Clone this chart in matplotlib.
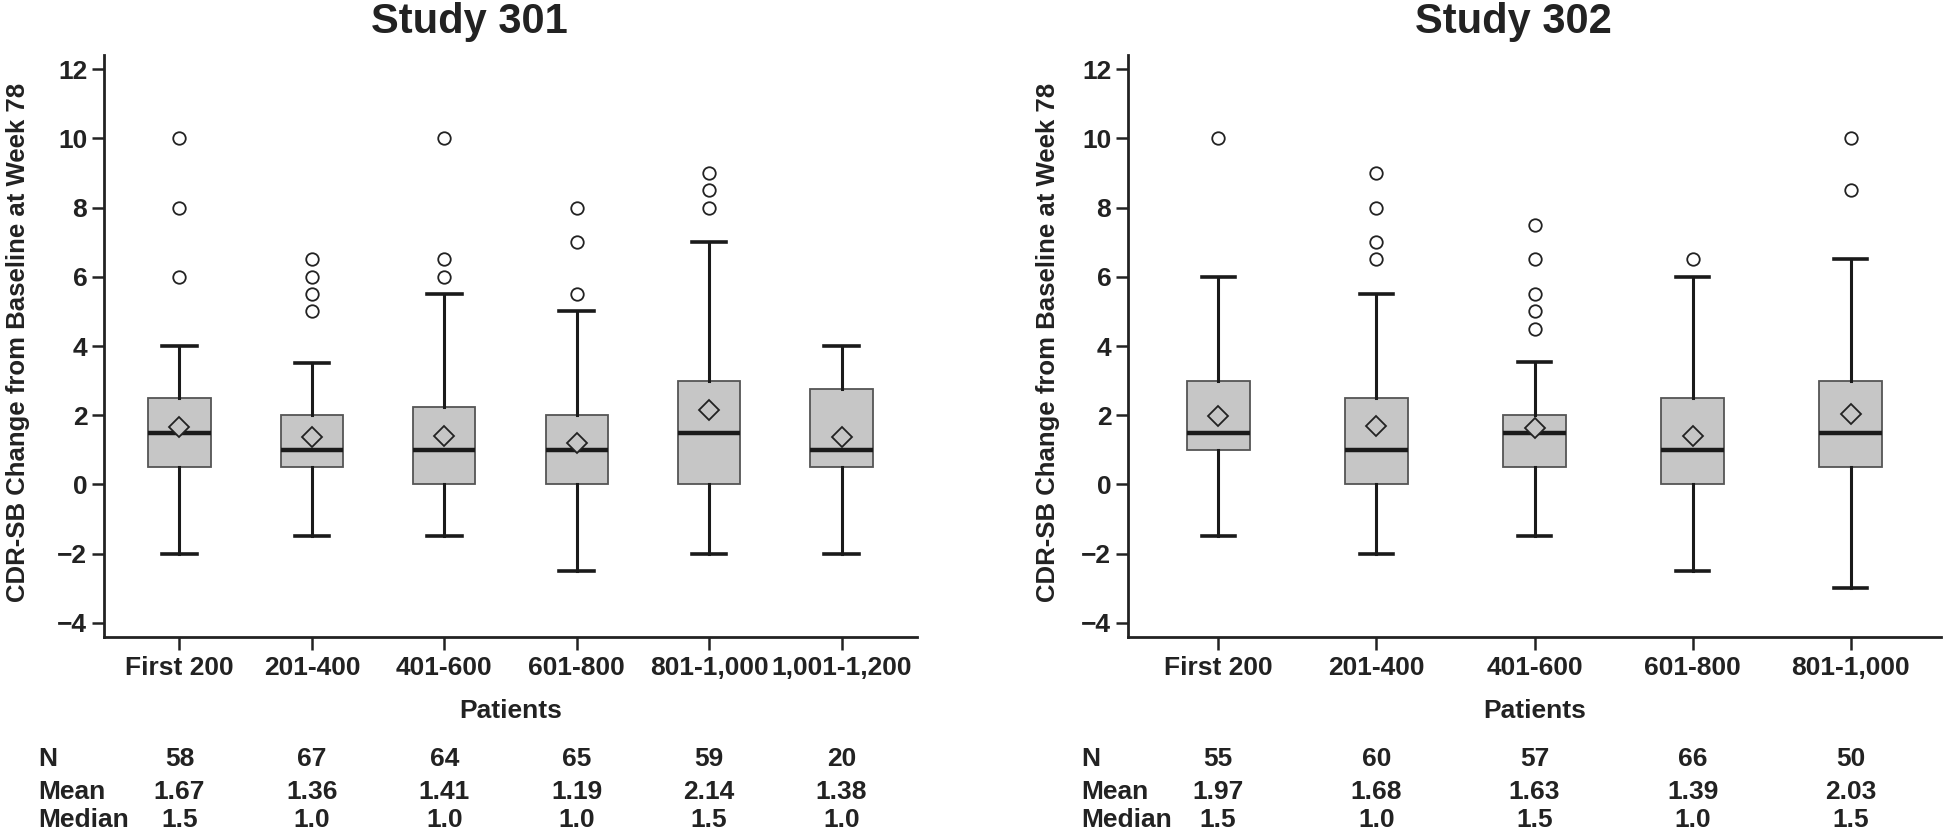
import matplotlib
matplotlib.use("Agg")
import matplotlib.pyplot as plt
from matplotlib.transforms import blended_transform_factory

plt.rcParams["font.family"] = ["Liberation Sans Narrow", "Liberation Sans", "DejaVu Sans"]
plt.rcParams["font.weight"] = "bold"

# Study 301
groups_301 = ["First 200", "201-400", "401-600", "601-800", "801-1,000", "1,001-1,200"]
n_301 = [58, 67, 64, 65, 59, 20]
mean_301 = [1.67, 1.36, 1.41, 1.19, 2.14, 1.38]
median_301 = [1.5, 1.0, 1.0, 1.0, 1.5, 1.0]
q1_301 = [0.5, 0.5, 0.0, 0.0, 0.0, 0.5]
q3_301 = [2.5, 2.0, 2.25, 2.0, 3.0, 2.75]
whislo_301 = [-2.0, -1.5, -1.5, -2.5, -2.0, -2.0]
whishi_301 = [4.0, 3.5, 5.5, 5.0, 7.0, 4.0]
fliers_301 = [[10, 8, 6], [6.5, 6, 5.5, 5], [10, 6.5, 6], [8, 7, 5.5], [9, 8.5, 8], []]

# Study 302
groups_302 = ["First 200", "201-400", "401-600", "601-800", "801-1,000"]
n_302 = [55, 60, 57, 66, 50]
mean_302 = [1.97, 1.68, 1.63, 1.39, 2.03]
median_302 = [1.5, 1.0, 1.5, 1.0, 1.5]
q1_302 = [1.0, 0.0, 0.5, 0.0, 0.5]
q3_302 = [3.0, 2.5, 2.0, 2.5, 3.0]
whislo_302 = [-1.5, -2.0, -1.5, -2.5, -3.0]
whishi_302 = [6.0, 5.5, 3.55, 6.0, 6.5]
fliers_302 = [[10], [9, 8, 7, 6.5], [7.5, 6.5, 5.5, 5, 4.5], [6.5], [10, 8.5]]

W, H = 1944, 836
DARK = "#222222"
BOX = "#c6c6c6"

fig = plt.figure(figsize=(W / 100, H / 100), dpi=100)


def px(x, y):
    return x / W, 1 - y / H


def draw_study(rect, title, title_x, ylab_x, label_x, groups, n, mean, median,
               q1, q3, lo, hi, fliers, box_w, cap_w):
    ax = fig.add_axes(rect)
    stats = [dict(med=median[i], q1=q1[i], q3=q3[i], whislo=lo[i], whishi=hi[i],
                  mean=mean[i], fliers=fliers[i]) for i in range(len(groups))]
    pos = list(range(1, len(groups) + 1))
    ax.bxp(stats, positions=pos, widths=box_w, capwidths=cap_w, showmeans=True,
           patch_artist=True,
           boxprops=dict(facecolor=BOX, edgecolor="#555555", linewidth=1.3),
           medianprops=dict(color="#1a1a1a", linewidth=3.2),
           whiskerprops=dict(color="#1a1a1a", linewidth=2.2),
           capprops=dict(color="#1a1a1a", linewidth=2.6),
           meanprops=dict(marker="D", markerfacecolor=BOX, markeredgecolor=DARK,
                          markersize=10, markeredgewidth=1.3),
           flierprops=dict(marker="o", markerfacecolor="white", markeredgecolor=DARK,
                           markersize=9, markeredgewidth=1.3))
    ax.set_xlim(0.43, len(groups) + 0.57)
    ax.set_ylim(-4.41, 12.41)
    ax.set_yticks(range(-4, 13, 2))
    ax.set_yticklabels([str(v).replace("-", "\u2212") for v in range(-4, 13, 2)])
    ax.set_xticks(pos)
    ax.set_xticklabels(groups)
    for side in ["top", "right"]:
        ax.spines[side].set_visible(False)
    for side in ["left", "bottom"]:
        ax.spines[side].set_linewidth(2.0)
        ax.spines[side].set_color(DARK)
    ax.tick_params(axis="both", length=9, width=1.8, color=DARK, labelsize=19,
                   labelcolor=DARK)
    ax.tick_params(axis="x", pad=5)
    ax.tick_params(axis="y", pad=3)

    fig.text(*px(title_x, 22), title, ha="center", va="center", fontsize=30,
             color=DARK)
    fig.text(*px(ylab_x, 342), "CDR-SB Change from Baseline at Week 78",
             rotation=90, ha="center", va="center", fontsize=18.5,
             family=["Liberation Sans", "DejaVu Sans"], color=DARK)
    fig.text((rect[0] + rect[2] / 2), 1 - 711 / H, "Patients", ha="center",
             va="center", fontsize=19, color=DARK)

    tr = blended_transform_factory(ax.transData, fig.transFigure)
    rows = [("N", 759, [str(v) for v in n]),
            ("Mean", 792, [f"{v:.2f}" for v in mean]),
            ("Median", 820, [f"{v:.1f}" for v in median])]
    for name, y, vals in rows:
        fig.text(label_x / W, 1 - y / H, name, ha="left", va="center",
                 fontsize=19, color=DARK)
        for p, v in zip(pos, vals):
            ax.text(p, 1 - y / H, v, transform=tr, ha="center", va="center",
                    fontsize=19, color=DARK)
    return ax


draw_study([104 / W, 1 - 637 / H, 813 / W, 582 / H], "Study 301", 469, 18, 38,
           groups_301, n_301, mean_301, median_301, q1_301, q3_301,
           whislo_301, whishi_301, fliers_301, 0.47, 0.26)
draw_study([1128 / W, 1 - 637 / H, 813 / W, 582 / H], "Study 302", 1513, 1048, 1081,
           groups_302, n_302, mean_302, median_302, q1_302, q3_302,
           whislo_302, whishi_302, fliers_302, 0.40, 0.21)

fig.savefig("out.png", dpi=100, facecolor="white")
